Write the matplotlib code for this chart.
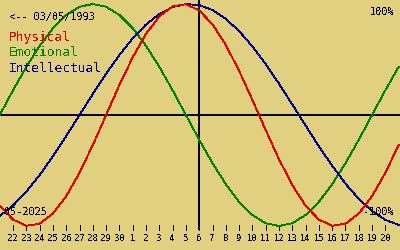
import matplotlib
matplotlib.use('Agg')
import matplotlib.pyplot as plt

# biorhythm for someone born 03/05/1993, centred on the 6th (05-2025)

# day labels under the ticks (index 0 = "22")
days = [22, 23, 24, 25, 26, 27, 28, 29, 30,
        1, 2, 3, 4, 5, 6, 7, 8, 9, 10,
        11, 12, 13, 14, 15, 16, 17, 18, 19, 20]

# one value per day, from index -1 up to index 29 (percent)
day_index = list(range(-1, 30))
physical = [-81.7, -94.2, -99.8, -97.9, -88.8, -73.1, -52.0, -27.0, 0.0,
            27.0, 52.0, 73.1, 88.8, 97.9, 99.8, 94.2, 81.7, 63.1, 39.8,
            13.6, -13.6, -39.8, -63.1, -81.7, -94.2, -99.8, -97.9, -88.8,
            -73.1, -52.0, -27.0]
emotional = [0.0, 22.3, 43.4, 62.3, 78.2, 90.1, 97.5, 100.0, 97.5, 90.1,
             78.2, 62.3, 43.4, 22.3, 0.0, -22.3, -43.4, -62.3, -78.2, -90.1,
             -97.5, -100.0, -97.5, -90.1, -78.2, -62.3, -43.4, -22.3, 0.0,
             22.3, 43.4]
intellectual = [-91.0, -81.5, -69.0, -54.1, -37.2, -18.9, 0.0, 18.9, 37.2,
                54.1, 69.0, 81.5, 91.0, 97.2, 99.9, 99.0, 94.5, 86.6, 75.6,
                61.8, 45.8, 28.2, 9.5, -9.5, -28.2, -45.8, -61.8, -75.6,
                -86.6, -94.5, -99.0]

today = 14  # index of the "6" tick

plt.rcParams['font.family'] = 'DejaVu Sans Mono'
plt.rcParams['text.antialiased'] = False

bg = '#e0d080'
fig = plt.figure(figsize=(4, 2.5), dpi=100, facecolor=bg)
ax = fig.add_axes([0, 0, 1, 1], facecolor=bg)

ax.axhline(0, color='black', lw=1.2, antialiased=False)
ax.vlines(today, -103.6, 110, color='black', lw=1.4, antialiased=False)
ax.vlines(range(len(days)), -103.6, -99.1, color='black', lw=0.6,
          antialiased=False)

ax.plot(day_index, emotional, color='#008000', lw=0.6, antialiased=False)
ax.plot(day_index, intellectual, color='#000090', lw=0.6, antialiased=False)
ax.plot(day_index, physical, color='#e00000', lw=0.6, antialiased=False)

for i, d in enumerate(days):
    ax.text(i, -110.8, str(d), ha='center', va='center', fontsize=6.5)

ax.set_xlim(-0.98, 29.1)
ax.set_ylim(-121.6, 103.6)
ax.axis('off')

def put(x, y, s, **kw):
    ax.text(x / 400, 1 - y / 250, s, transform=ax.transAxes, va='center', **kw)

put(9, 17, '<-- 03/05/1993', fontsize=7.4)
put(9, 38, 'Physical', fontsize=9.3, color='#e00000')
put(9, 53, 'Emotional', fontsize=9.3, color='#008000')
put(9, 68, 'Intellectual', fontsize=9.3, color='#000090')
put(394, 12, '100%', fontsize=7.4, ha='right')
put(394, 212, '-100%', fontsize=7.4, ha='right')
put(4, 212, '05-2025', fontsize=7.4)

fig.savefig('out.png', dpi=100, facecolor=bg)
